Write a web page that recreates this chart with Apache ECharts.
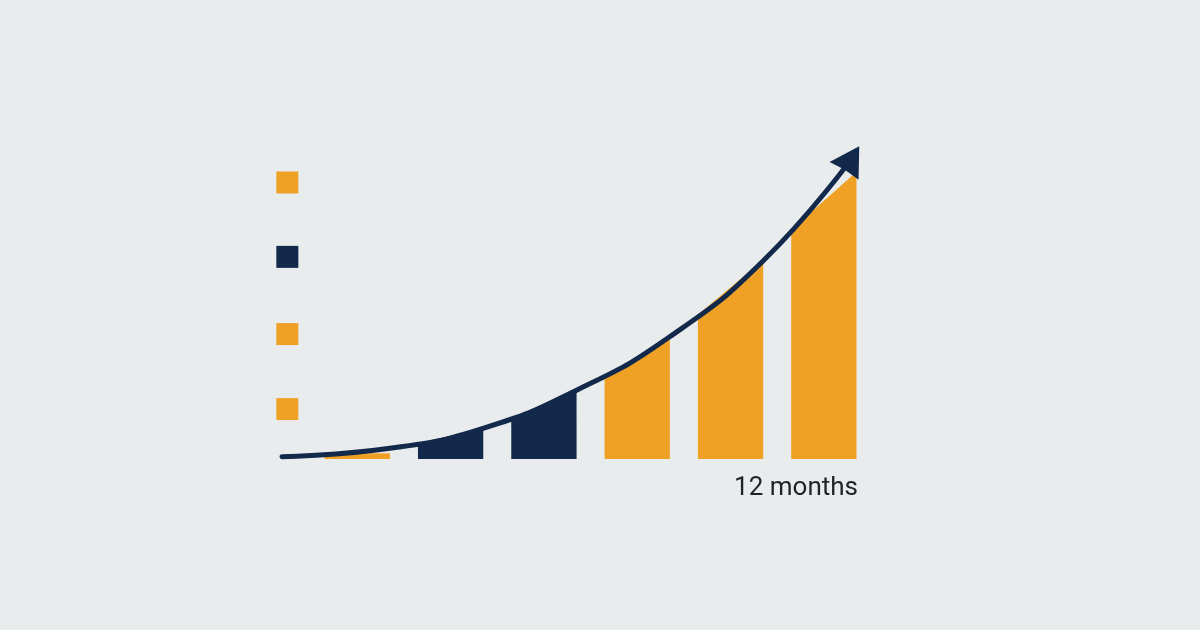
<!DOCTYPE html>
<html lang="en">
<head>
<meta charset="UTF-8">
<title>12 months</title>
<style>
    html, body { margin: 0; background: #e9ecec; }
    #main { width: 1200px; height: 630px; }
</style>
</head>
<body>
<div id="main"></div>
<script src="https://cdn.jsdelivr.net/npm/echarts@6/dist/echarts.min.js"></script>
<script>
    var orange = '#EFA126';
    var navy = '#13294B';

    // bars: centre position, height at left edge, height at right edge (tops follow the curve)
    var barPos = [1, 2, 3, 4, 5, 6];
    var barLeft = [1.84, 5.06, 12.6, 26.5, 46.5, 73.9];
    var barRight = [1.84, 9.9, 22.3, 39.5, 64.2, 92.7];
    var barColor = [orange, navy, navy, orange, orange, orange];

    // growth curve, last point carries the arrow head
    var curveX = [0.193, 1.35, 2.347, 3.355, 4.352, 5.359, 6.298];
    var curveY = [0.74, 3.45, 9.9, 22.26, 39.5, 64.2, 96.9];

    // little squares on the left
    var markX = [0.25, 0.25, 0.25, 0.25];
    var markY = [89.2, 65.2, 40.3, 16.1];
    var markColor = [orange, navy, orange, orange];

    var label = '12 months';

    var myChart = echarts.init(document.getElementById('main'));

    var barData = barPos.map(function (p, i) { return [p, barLeft[i], barRight[i]]; });
    var curveData = curveX.map(function (x, i) {
        var item = { value: [x, curveY[i]] };
        if (i === curveX.length - 1) {
            // near-solid triangle head, tip at the top of the path
            item.symbol = 'path://M0,0L0.58,1L0,0.95L-0.58,1Z';
            item.symbolSize = [34, 29];
            item.symbolRotate = -31.5;
            item.itemStyle = { color: navy, opacity: 1 };
        }
        return item;
    });
    var markData = markY.map(function (y, i) {
        return { value: [markX[i], y], itemStyle: { color: markColor[i], opacity: 1 } };
    });

    var option = {
        backgroundColor: '#e9ecec',
        animation: false,
        title: {
            text: label,
            right: 342,
            top: 475,
            padding: 0,
            textStyle: { fontFamily: 'Roboto', fontSize: 26, fontWeight: 'normal', color: '#1f2328' }
        },
        grid: { left: 264, right: 329.5, top: 149, bottom: 171 },
        xAxis: { type: 'value', min: 0, max: 6.5, show: false },
        yAxis: { type: 'value', min: 0, max: 100, show: false },
        series: [
            {
                type: 'custom',
                z: 1,
                data: barData,
                renderItem: function (params, api) {
                    var c = api.value(0), hw = 0.35;
                    var pts = [
                        api.coord([c - hw, 0]),
                        api.coord([c - hw, api.value(1)]),
                        api.coord([c + hw, api.value(2)]),
                        api.coord([c + hw, 0])
                    ];
                    return { type: 'polygon', shape: { points: pts }, style: { fill: barColor[params.dataIndex] } };
                }
            },
            {
                type: 'scatter',
                z: 2,
                symbol: 'rect',
                symbolSize: 22,
                itemStyle: { opacity: 1 },
                data: markData
            },
            {
                type: 'line',
                z: 3,
                smooth: 0.5,
                symbol: 'none',
                lineStyle: { color: navy, width: 5, cap: 'round' },
                data: curveData
            }
        ]
    };

    myChart.setOption(option);
</script>
</body>
</html>
